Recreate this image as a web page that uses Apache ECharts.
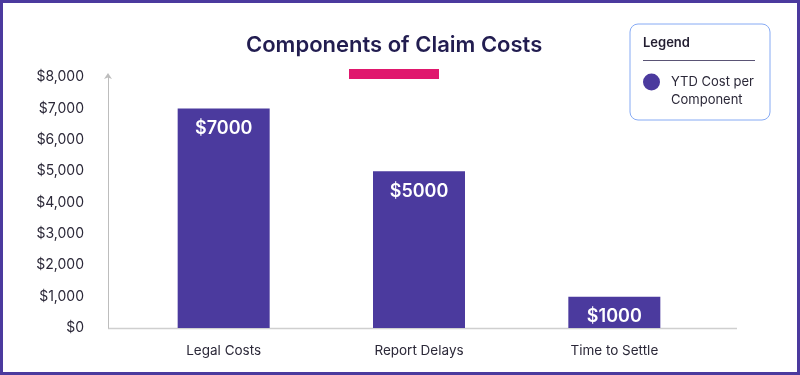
<!DOCTYPE html>
<html><head><meta charset="utf-8">
<script src="https://cdn.jsdelivr.net/npm/echarts@6/dist/echarts.min.js"></script>
<style>html,body{margin:0;padding:0;background:#fff}#c{width:800px;height:375px}</style>
</head><body><div id="c"></div>
<script>
const categories = ['Legal Costs', 'Report Delays', 'Time to Settle'];
const costValues = [7000, 5000, 1000];
const seriesName = 'YTD Cost per Component';
const titleText = 'Components of Claim Costs';

const purple = '#4b3a9e';
const textColor = '#2b2838';
const font = 'Inter';

const chart = echarts.init(document.getElementById('c'));
chart.setOption({
  animation: false,
  textStyle: { fontFamily: font },
  title: {
    text: titleText, left: 241, top: 29,
    textStyle: { fontFamily: font, fontSize: 22, fontWeight: 600, color: '#221d50' }
  },
  grid: { left: 126, right: 88, top: 77, bottom: 47 },
  legend: {
    left: 638, top: 50, orient: 'vertical',
    icon: 'circle', itemWidth: 17, itemHeight: 17, itemGap: 6,
    formatter: () => '\nYTD Cost per\nComponent',
    textStyle: { fontFamily: font, fontSize: 13, color: textColor, lineHeight: 18, padding: [0, 0, 0, 6] },
    data: [seriesName]
  },
  xAxis: {
    type: 'category', data: categories,
    axisLine: { show: false }, axisTick: { show: false },
    axisLabel: { color: textColor, fontSize: 13.5, margin: 16, fontFamily: font }
  },
  yAxis: {
    type: 'value', min: 0, max: 8000, interval: 1000, offset: 18,
    splitLine: { show: false },
    axisLine: { show: true, lineStyle: { color: '#bdbdbd', width: 1 }, symbol: ['none', 'arrow'], symbolSize: [6, 6], symbolOffset: [0, 4] },
    axisLabel: {
      color: textColor, fontSize: 14, margin: 24, fontFamily: font,
      formatter: v => '$' + v.toLocaleString('en-US')
    }
  },
  series: [{
    name: seriesName, type: 'bar', data: costValues, barWidth: 92,
    itemStyle: { color: purple },
    label: {
      show: true, position: 'insideTop', distance: 11,
      color: '#fff', fontSize: 18, fontWeight: 600, fontFamily: font,
      formatter: p => '$' + p.value
    }
  }],
  graphic: [
    { type: 'rect', shape: { x: 1.5, y: 1.5, width: 797, height: 372 }, style: { fill: 'none', stroke: purple, lineWidth: 3 }, z: 100 },
    { type: 'line', shape: { x1: 108, y1: 328.5, x2: 737, y2: 328.5 }, style: { stroke: '#cfcfcf', lineWidth: 1.5 } },
    { type: 'rect', shape: { x: 349, y: 69, width: 90, height: 10 }, style: { fill: '#e0176d' } },
    { type: 'rect', shape: { x: 630, y: 24, width: 140, height: 96, r: 8 }, style: { fill: '#fff', stroke: '#86aaf4', lineWidth: 1 }, z: -1 },
    { type: 'text', left: 643, top: 37, style: { text: 'Legend', fontFamily: font, fontSize: 13, fontWeight: 600, fill: '#221d30' } },
    { type: 'line', shape: { x1: 643, y1: 60.5, x2: 755, y2: 60.5 }, style: { stroke: '#5a5475', lineWidth: 1 } }
  ]
});
</script></body></html>
